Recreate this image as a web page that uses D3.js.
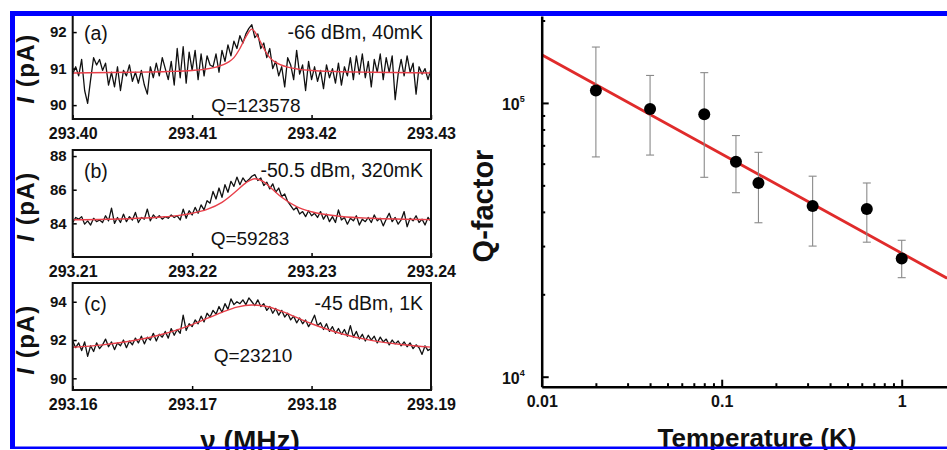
<!DOCTYPE html>
<html>
<head>
<meta charset="utf-8">
<script src="https://cdn.jsdelivr.net/npm/d3@7"></script>
<style>
  body { margin: 0; background: #fff; }
  svg { display: block; }
  text { font-family: "Liberation Sans", Arial, sans-serif; }
</style>
</head>
<body>
<svg id="chart" width="947" height="450"></svg>
<script>
// ---- left panels: resonance traces, I (pA) vs frequency (MHz) ----
const panelLetters = ["(a)", "(b)", "(c)"];
const panelConditions = ["-66 dBm, 40mK", "-50.5 dBm, 320mK", "-45 dBm, 1K"];
const panelQ = ["Q=123578", "Q=59283", "Q=23210"];
const freqStart = [293.40, 293.21, 293.16];   // each panel spans 0.03 MHz
const freqStep = 0.00025;                      // spacing of measured samples
const yTickSets = [[90, 91, 92], [84, 86, 88], [90, 92, 94]];
const yDomains = [[89.62, 92.55], [82.0, 88.36], [89.39, 94.98]];

const traceA = [
  90.85, 91.05, 90.80, 91.25, 90.40, 90.05, 90.70, 91.30, 91.10, 91.25,
  90.95, 91.15, 90.55, 90.90, 90.50, 91.05, 90.40, 90.95, 90.80, 91.10,
  90.65, 90.90, 90.60, 90.95, 90.55, 90.30, 91.05, 90.75, 91.15, 90.80,
  91.30, 91.00, 90.70, 91.20, 90.55, 91.55, 90.75, 91.60, 90.60, 91.45,
  90.95, 91.50, 90.70, 91.40, 90.80, 91.35, 91.10, 91.05, 91.40, 90.90,
  91.50, 91.20, 91.65, 91.35, 91.75, 91.55, 91.90, 91.70, 91.95, 92.10,
  92.20, 91.85, 91.95, 91.55, 91.70, 91.30, 91.55, 91.00, 91.20, 90.80,
  91.05, 90.50, 91.30, 91.10, 90.70, 91.50, 90.85, 91.10, 90.40, 91.20,
  90.70, 91.05, 90.65, 90.95, 90.45, 91.10, 90.75, 91.00, 90.60, 91.15,
  90.55, 91.05, 90.80, 91.30, 90.70, 91.35, 90.85, 91.40, 90.75, 91.20,
  90.50, 91.25, 90.90, 91.40, 90.70, 91.30, 90.90, 91.35, 90.15, 90.85,
  91.25, 90.80, 91.35, 90.90, 91.15, 90.30, 91.05, 90.85, 91.00, 90.70,
  91.00
];
const traceB = [
  84.05, 84.35, 84.25, 84.40, 83.95, 84.15, 83.90, 84.30, 84.10, 84.20,
  84.05, 84.45, 84.15, 84.90, 84.00, 84.35, 84.05, 84.55, 84.10, 84.40,
  84.20, 84.65, 84.05, 84.35, 84.25, 84.85, 84.15, 84.50, 84.30, 84.45,
  84.25, 84.40, 84.30, 84.50, 84.35, 84.45, 84.20, 84.85, 84.30, 84.75,
  84.50, 84.95, 84.60, 85.10, 84.80, 85.35, 85.20, 85.90, 85.45, 86.10,
  85.55, 86.30, 85.85, 86.50, 86.20, 86.75, 86.30, 86.70, 86.45, 86.60,
  86.80, 86.90, 86.55, 86.70, 86.25, 86.45, 86.05, 86.35, 85.85, 86.10,
  85.60, 85.75, 85.30, 85.05, 84.80, 84.95, 84.55, 84.70, 84.40, 84.75,
  84.45, 84.60, 84.35, 84.70, 84.25, 84.55, 84.10, 84.40, 84.05, 84.80,
  84.20, 84.35, 83.95, 84.30, 84.15, 84.45, 83.90, 84.25, 84.10, 84.35,
  84.05, 84.50, 84.15, 84.30, 83.85, 84.25, 84.60, 84.10, 84.35, 83.95,
  84.20, 84.70, 83.80, 84.30, 84.15, 84.45, 84.05, 84.25, 83.90, 84.35,
  84.10
];
const traceC = [
  91.95, 91.60, 91.85, 91.45, 91.90, 91.15, 91.70, 91.40, 91.85, 91.55,
  91.75, 92.05, 91.65, 91.90, 91.50, 91.85, 91.70, 92.00, 91.60, 91.95,
  91.75, 92.10, 91.85, 92.20, 91.80, 92.15, 92.00, 92.35, 91.95, 92.30,
  92.15, 92.45, 92.10, 92.60, 92.25, 92.55, 92.35, 93.30, 92.50, 92.85,
  92.70, 93.05, 92.85, 93.25, 92.95, 93.40, 93.20, 93.55, 93.35, 93.75,
  93.45, 93.90, 93.60, 94.15, 93.85, 94.00, 93.90, 94.10, 93.85, 94.20,
  94.00, 93.80, 94.10, 93.75, 93.90, 93.55, 93.75, 93.40, 93.65, 93.30,
  93.55, 93.20, 93.40, 93.05, 93.25, 92.90, 93.15, 92.85, 93.05, 92.70,
  92.95, 93.30, 92.75, 92.90, 92.55, 92.85, 92.45, 92.70, 92.35, 92.60,
  92.30, 92.55, 92.20, 92.75, 92.15, 92.45, 92.05, 92.30, 91.95, 92.25,
  92.00, 92.20, 91.85, 92.15, 91.90, 92.05, 91.75, 92.00, 91.80, 91.95,
  91.70, 91.90, 91.65, 91.85, 91.55, 91.75, 91.60, 91.25, 91.70, 91.45,
  91.55
];

// red fitted curves, [frequency, current]
const fitA = [
  [293.400, 90.88], [293.405, 90.90], [293.408, 90.92], [293.410, 90.95],
  [293.411, 90.98], [293.412, 91.04], [293.413, 91.17], [293.4135, 91.30],
  [293.414, 91.55], [293.4145, 91.87], [293.415, 92.08], [293.4155, 91.87],
  [293.416, 91.55], [293.4165, 91.30], [293.417, 91.17], [293.418, 91.04],
  [293.419, 90.98], [293.420, 90.95], [293.422, 90.92], [293.425, 90.90],
  [293.430, 90.88]
];
const fitB = [
  [293.210, 84.21], [293.215, 84.29], [293.2175, 84.38], [293.21875, 84.46],
  [293.220, 84.60], [293.22125, 84.83], [293.2225, 85.25], [293.22375, 85.95],
  [293.2245, 86.41], [293.22525, 86.65], [293.226, 86.46], [293.22675, 86.01],
  [293.2275, 85.55], [293.22875, 85.00], [293.230, 84.69], [293.2325, 84.41],
  [293.235, 84.30], [293.240, 84.22]
];
const fitC = [
  [293.160, 91.62], [293.1625, 91.75], [293.165, 91.96], [293.1675, 92.30],
  [293.170, 92.81], [293.1725, 93.45], [293.17375, 93.72], [293.175, 93.83],
  [293.17625, 93.75], [293.1775, 93.50], [293.180, 92.85], [293.1825, 92.33],
  [293.185, 91.98], [293.1875, 91.77], [293.190, 91.63]
];
const traces = [traceA, traceB, traceC];
const fits = [fitA, fitB, fitC];

// ---- right panel: Q-factor vs temperature ----
const tempK = [0.02, 0.04, 0.08, 0.12, 0.16, 0.32, 0.64, 1.0];
const qFactor = [1.11e5, 9.5e4, 9.1e4, 6.1e4, 5.1e4, 4.2e4, 4.1e4, 2.7e4];
const qUpper = [1.60e5, 1.26e5, 1.29e5, 7.6e4, 6.6e4, 5.4e4, 5.1e4, 3.15e4];
const qLower = [6.35e4, 6.45e4, 5.35e4, 4.7e4, 3.65e4, 3.0e4, 3.1e4, 2.3e4];
const fitT = [0.01, 1.785];
const fitQ = [1.50e5, 2.29e4];
const tempTickLabels = ["0.01", "0.1", "1"];

const svg = d3.select("#chart");
svg.append("rect").attr("width", 947).attr("height", 450).attr("fill", "#fff");

// layout
const PL = 72.7, PR = 431, PH = 107;
const panelTop = [12, 150, 283];
const qPos = [[256, 100], [250, 95], [253, 79]];

panelTop.forEach((top, k) => {
  const x = d3.scaleLinear().domain([freqStart[k], freqStart[k] + 0.03]).range([PL, PR]);
  const y = d3.scaleLinear().domain(yDomains[k]).range([top + PH, top]);
  const g = svg.append("g");

  g.append("clipPath").attr("id", "clip" + k)
    .append("rect").attr("x", PL).attr("y", top).attr("width", PR - PL).attr("height", PH);

  g.append("path")
    .datum(traces[k])
    .attr("clip-path", `url(#clip${k})`)
    .attr("fill", "none")
    .attr("stroke", "#111")
    .attr("stroke-width", 1.3)
    .attr("stroke-linejoin", "round")
    .attr("d", d3.line().x((d, i) => x(freqStart[k] + i * freqStep)).y(d => y(d)));

  g.append("path")
    .datum(fits[k])
    .attr("clip-path", `url(#clip${k})`)
    .attr("fill", "none")
    .attr("stroke", "#e8404a")
    .attr("stroke-width", 1.4)
    .attr("d", d3.line().curve(d3.curveMonotoneX).x(d => x(d[0])).y(d => y(d[1])));

  // x axis, ticks pointing inward
  const xTicks = d3.range(4).map(i => freqStart[k] + i * 0.01);
  g.append("g")
    .attr("transform", `translate(0,${top + PH})`)
    .call(d3.axisBottom(x).tickValues(xTicks).tickSize(-4).tickSizeOuter(0).tickPadding(9).tickFormat(d3.format(".2f")))
    .call(a => a.select(".domain").remove())
    .call(a => a.selectAll("line").attr("stroke-width", 1.5))
    .call(a => a.selectAll("text").attr("font-size", 16).attr("font-weight", "bold").attr("fill", "#111"));

  g.append("g")
    .attr("transform", `translate(${PL},0)`)
    .call(d3.axisLeft(y).tickValues(yTickSets[k]).tickSize(-4).tickSizeOuter(0).tickPadding(6).tickFormat(d3.format("d")))
    .call(a => a.select(".domain").remove())
    .call(a => a.selectAll("line").attr("stroke-width", 1.5))
    .call(a => a.selectAll("text").attr("font-size", 15).attr("font-weight", "bold").attr("fill", "#111"));

  g.append("rect")
    .attr("x", PL).attr("y", top).attr("width", PR - PL).attr("height", PH)
    .attr("fill", "none").attr("stroke", "#111").attr("stroke-width", 2);

  g.append("text").attr("x", 84).attr("y", top + 28)
    .attr("font-size", 19.5).attr("fill", "#111").text(panelLetters[k]);
  g.append("text").attr("x", 423).attr("y", top + 27).attr("text-anchor", "end")
    .attr("font-size", 19.5).attr("fill", "#111").text(panelConditions[k]);
  g.append("text").attr("x", qPos[k][0]).attr("y", top + qPos[k][1]).attr("text-anchor", "middle")
    .attr("font-size", 19).attr("fill", "#111").text(panelQ[k]);

  const yl = g.append("text")
    .attr("transform", `translate(34,${top + PH / 2 + 3}) rotate(-90)`)
    .attr("text-anchor", "middle")
    .attr("font-size", 24).attr("font-weight", "bold").attr("letter-spacing", 1.5).attr("fill", "#111");
  yl.append("tspan").attr("font-style", "italic").text("I");
  yl.append("tspan").text(" (pA)");
});

svg.append("text").attr("x", 250).attr("y", 450).attr("text-anchor", "middle")
  .attr("font-size", 28).attr("font-weight", "bold").attr("fill", "#111").text("ν (MHz)");

// ---- right log-log plot ----
const AX = 541.7, AY = 386.7;
const xs = d3.scaleLog().domain([0.01, 1.785]).range([AX, 947]);
const ys = d3.scaleLog().domain([Math.pow(10, 3.9635), Math.pow(10, 5.3175)]).range([AY, 16]);

const rg = svg.append("g");

// fit line
rg.append("path")
  .datum(fitT.map((t, i) => [t, fitQ[i]]))
  .attr("fill", "none").attr("stroke", "#e02b2b").attr("stroke-width", 2.8)
  .attr("d", d3.line().x(d => xs(d[0])).y(d => ys(d[1])));

// error bars
const eb = rg.selectAll(".eb").data(tempK).join("g").attr("stroke", "#8a8a8a").attr("stroke-width", 1.1);
eb.append("line").attr("x1", d => xs(d)).attr("x2", d => xs(d))
  .attr("y1", (d, i) => ys(qUpper[i])).attr("y2", (d, i) => ys(qLower[i]));
eb.append("line").attr("x1", d => xs(d) - 4).attr("x2", d => xs(d) + 4)
  .attr("y1", (d, i) => ys(qUpper[i])).attr("y2", (d, i) => ys(qUpper[i]));
eb.append("line").attr("x1", d => xs(d) - 4).attr("x2", d => xs(d) + 4)
  .attr("y1", (d, i) => ys(qLower[i])).attr("y2", (d, i) => ys(qLower[i]));

rg.selectAll(".pt").data(tempK).join("circle")
  .attr("cx", d => xs(d)).attr("cy", (d, i) => ys(qFactor[i]))
  .attr("r", 6).attr("fill", "#000");

// axes: minor ticks, then major ticks with labels
const minorX = xs.ticks().filter(t => Math.abs(Math.log10(t) % 1) > 1e-6);
const majorX = [0.01, 0.1, 1];
rg.append("g").attr("transform", `translate(0,${AY})`)
  .call(d3.axisBottom(xs).tickValues(minorX).tickSize(-3.5).tickSizeOuter(0).tickFormat(""))
  .call(a => a.select(".domain").remove())
  .call(a => a.selectAll("line").attr("stroke-width", 2));
rg.append("g").attr("transform", `translate(0,${AY})`)
  .call(d3.axisBottom(xs).tickValues(majorX).tickSize(-7).tickSizeOuter(0).tickPadding(9)
    .tickFormat((d, i) => tempTickLabels[i]))
  .call(a => a.select(".domain").attr("stroke-width", 2.5))
  .call(a => a.selectAll("line").attr("stroke-width", 2))
  .call(a => a.selectAll("text").attr("font-size", 16).attr("font-weight", "bold").attr("fill", "#111"));

const minorY = ys.ticks().filter(t => Math.abs(Math.log10(t) % 1) > 1e-6);
rg.append("g").attr("transform", `translate(${AX},0)`)
  .call(d3.axisLeft(ys).tickValues(minorY).tickSize(-3.5).tickSizeOuter(0).tickFormat(""))
  .call(a => a.select(".domain").remove())
  .call(a => a.selectAll("line").attr("stroke-width", 2));
rg.append("g").attr("transform", `translate(${AX},0)`)
  .call(d3.axisLeft(ys).tickValues([1e4, 1e5]).tickSize(-7).tickSizeOuter(0).tickPadding(17).tickFormat(""))
  .call(a => a.select(".domain").attr("stroke-width", 2.5))
  .call(a => a.selectAll("line").attr("stroke-width", 2))
  .call(a => a.selectAll("text")
    .attr("font-size", 16).attr("font-weight", "bold").attr("fill", "#111").attr("dy", "0.42em")
    .each(function (d) {
      const t = d3.select(this);
      t.text("10");
      t.append("tspan").attr("font-size", 9).attr("dy", "-0.9em").text(Math.round(Math.log10(d)));
    }));

rg.append("text")
  .attr("transform", `translate(493,206) rotate(-90)`)
  .attr("text-anchor", "middle")
  .attr("font-size", 29).attr("font-weight", "bold").attr("fill", "#111").text("Q-factor");
rg.append("text").attr("x", 757).attr("y", 447).attr("text-anchor", "middle")
  .attr("font-size", 26).attr("font-weight", "bold").attr("fill", "#111").text("Temperature (K)");

// blue frame around the figure
const border = svg.append("g").attr("fill", "#0000ff");
border.append("rect").attr("x", 10).attr("y", 11).attr("width", 937).attr("height", 5);
border.append("rect").attr("x", 10).attr("y", 11).attr("width", 5).attr("height", 438);
border.append("rect").attr("x", 10).attr("y", 446.5).attr("width", 937).attr("height", 2.5);
</script>
</body>
</html>
